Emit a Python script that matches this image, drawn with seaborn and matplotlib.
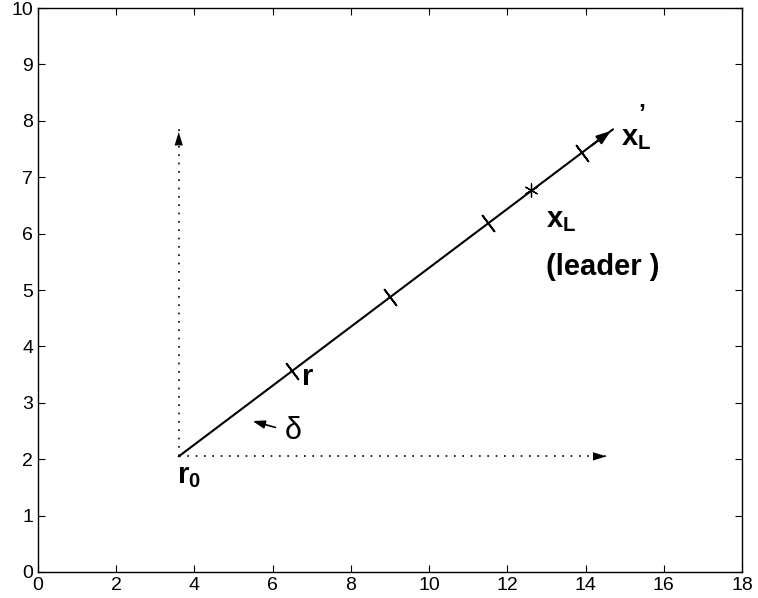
import numpy as np
import pandas as pd
import matplotlib
matplotlib.use("Agg")
import matplotlib.pyplot as plt
import seaborn as sns

# data
line_x = [3.6, 14.7]
line_y = [2.05, 7.85]
tick_x = [6.5, 9.0, 11.5, 13.9]
tick_y = [3.56, 4.87, 6.18, 7.43]
leader_x = [12.6]
leader_y = [6.77]
vert_x = [3.6, 3.6]
vert_y = [2.05, 7.85]
horiz_x = [3.6, 14.6]
horiz_y = [2.05, 2.05]
xticks = list(range(0, 19, 2))
yticks = list(range(0, 11))

sns.set_theme(style="white")
plt.rcParams['font.family'] = ['Liberation Sans', 'DejaVu Sans']
plt.rcParams['mathtext.fontset'] = 'custom'
plt.rcParams['mathtext.rm'] = 'Liberation Sans'
plt.rcParams['mathtext.bf'] = 'Liberation Sans:bold'

fig = plt.figure(figsize=(7.58, 5.98), dpi=100)
ax = fig.add_axes([0.050, 0.0435, 0.929, 0.943])

df = pd.DataFrame({"x": line_x, "y": line_y})
sns.lineplot(data=df, x="x", y="y", ax=ax, color="black", lw=1.5, sort=False, estimator=None)
ax.annotate("", xy=(line_x[1], line_y[1]), xytext=(line_x[1] - 0.6, line_y[1] - 0.313),
            arrowprops=dict(arrowstyle="-|>,head_length=0.7,head_width=0.25", color="black", lw=1.5))

# perpendicular tick marks
ang = np.degrees(np.arctan(0.5225 * (0.943 * 5.98 / 10) / (0.929 * 7.58 / 18)))
sns.scatterplot(x=tick_x, y=tick_y, ax=ax, marker=(2, 2, ang), s=200, color="black", linewidth=1.3)
sns.scatterplot(x=leader_x, y=leader_y, ax=ax, marker=(6, 2, 0), s=90, color="black", linewidth=0.9)

# dotted axes with arrows
sns.lineplot(x=vert_x, y=vert_y, ax=ax, color="black", lw=1.2, linestyle=(0, (1, 4)),
             sort=False, estimator=None)
sns.lineplot(x=horiz_x, y=horiz_y, ax=ax, color="black", lw=1.2, linestyle=(0, (1, 4)),
             sort=False, estimator=None)
ax.annotate("", xy=(vert_x[1], vert_y[1]), xytext=(vert_x[1], vert_y[1] - 0.5),
            arrowprops=dict(arrowstyle="-|>,head_length=0.8,head_width=0.25", color="black", lw=0))
ax.annotate("", xy=(horiz_x[1], horiz_y[1]), xytext=(horiz_x[1] - 0.5, horiz_y[1]),
            arrowprops=dict(arrowstyle="-|>,head_length=0.8,head_width=0.25", color="black", lw=0))

# delta arrow
ax.annotate("", xy=(5.42, 2.69), xytext=(6.14, 2.55),
            arrowprops=dict(arrowstyle="-|>,head_length=0.6,head_width=0.2", color="black", lw=1.2))

bold = dict(fontsize=21, fontweight="bold", color="black")
ax.text(6.75, 3.45, "r", **bold, va="center")
ax.text(3.55, 1.95, r"$\mathbf{r}_{\mathbf{0}}$", **bold, ha="left", va="top")
ax.text(6.3, 2.5, "δ", fontsize=22, color="black", va="center", ha="left")
ax.text(13.0, 6.25, r"$\mathbf{x}_{\mathbf{L}}$", **bold, ha="left", va="center")
ax.text(13.0, 5.4, "(leader )", **bold, ha="left", va="center")
ax.text(14.9, 7.7, r"$\mathbf{x}_{\mathbf{L}}$", **bold, ha="left", va="center")
ax.text(15.35, 8.1, "’", fontsize=18, fontweight="bold", color="black", ha="left", va="center")

ax.set_xlim(0, 18)
ax.set_ylim(0, 10)
ax.set_xticks(xticks)
ax.set_yticks(yticks)
ax.set_xlabel("")
ax.set_ylabel("")
for s in ax.spines.values():
    s.set_visible(True)
    s.set_color("black")
    s.set_linewidth(1.0)
ax.tick_params(direction="in", length=5, width=0.8, top=True, right=True, labelsize=14,
               colors="black", left=True, bottom=True)

fig.savefig("out.png", dpi=100)
